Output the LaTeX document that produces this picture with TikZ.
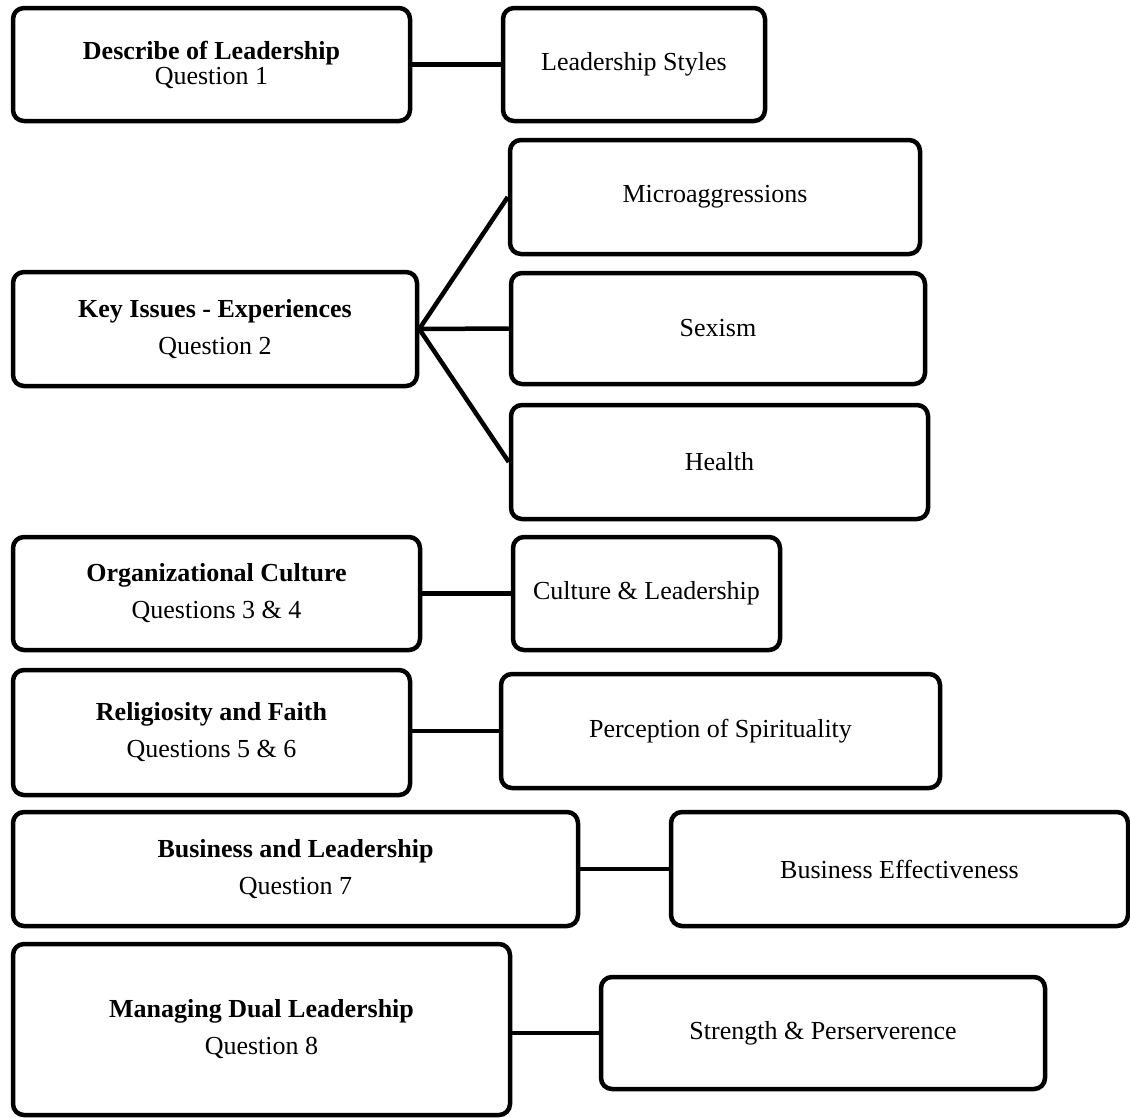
\documentclass[tikz,border=0pt]{standalone}
\usepackage{fontspec}
\setmainfont{Liberation Serif}
\begin{document}
\begin{tikzpicture}[x=1pt,y=-1pt,
  box/.style={draw=black, line width=4.5pt, rounded corners=11pt, rectangle,
    inner sep=0pt, align=center, font=\fontsize{26}{37}\selectfont},
  link/.style={draw=black, line width=4.5pt}]
\useasboundingbox (0,0) rectangle (1130,1117);
% left column
\node[box, minimum width=397pt, minimum height=113pt] (A) at (211.5,64.5)
  {\textbf{Describe of Leadership}\\[-12pt]Question 1};
\node[box, minimum width=404pt, minimum height=114pt] (C) at (215,329)
  {\textbf{Key Issues - Experiences}\\Question 2};
\node[box, minimum width=407pt, minimum height=113pt] (D) at (216.5,593.5)
  {\textbf{Organizational Culture}\\Questions 3 \& 4};
\node[box, minimum width=397pt, minimum height=125pt] (F) at (211.5,732.5)
  {\textbf{Religiosity and Faith}\\Questions 5 \& 6};
\node[box, minimum width=565pt, minimum height=114pt] (H) at (295.5,869)
  {\textbf{Business and Leadership}\\Question 7};
\node[box, minimum width=497pt, minimum height=171pt] (J) at (261.5,1029.5)
  {\textbf{Managing Dual Leadership}\\Question 8};
% right column
\node[box, minimum width=262pt, minimum height=113pt] (B) at (634,64.5) {Leadership Styles};
\node[box, minimum width=410pt, minimum height=114pt] (M) at (715,197) {Microaggressions};
\node[box, minimum width=414pt, minimum height=111pt] (S) at (718,328.5) {Sexism};
\node[box, minimum width=417pt, minimum height=114pt] (He) at (719.5,462) {Health};
\node[box, minimum width=267pt, minimum height=113pt] (E) at (646.5,593.5) {Culture \& Leadership};
\node[box, minimum width=439pt, minimum height=114pt] (G) at (720.5,731) {Perception of Spirituality};
\node[box, minimum width=457pt, minimum height=114pt] (I) at (899.5,869) {Business Effectiveness};
\node[box, minimum width=444pt, minimum height=112pt] (K) at (823,1033) {Strength \& Perserverence};
% connectors
\draw[link] (A.east) -- (B.west);
\draw[link] (C.east) -- (M.west);
\draw[link] (C.east) -- (S.west);
\draw[link] (C.east) -- (He.west);
\draw[link] (D.east) -- (E.west);
\draw[link] (F.east |- G.west) -- (G.west);
\draw[link] (H.east) -- (I.west);
\draw[link] (J.east |- K.west) -- (K.west);
\end{tikzpicture}
\end{document}
